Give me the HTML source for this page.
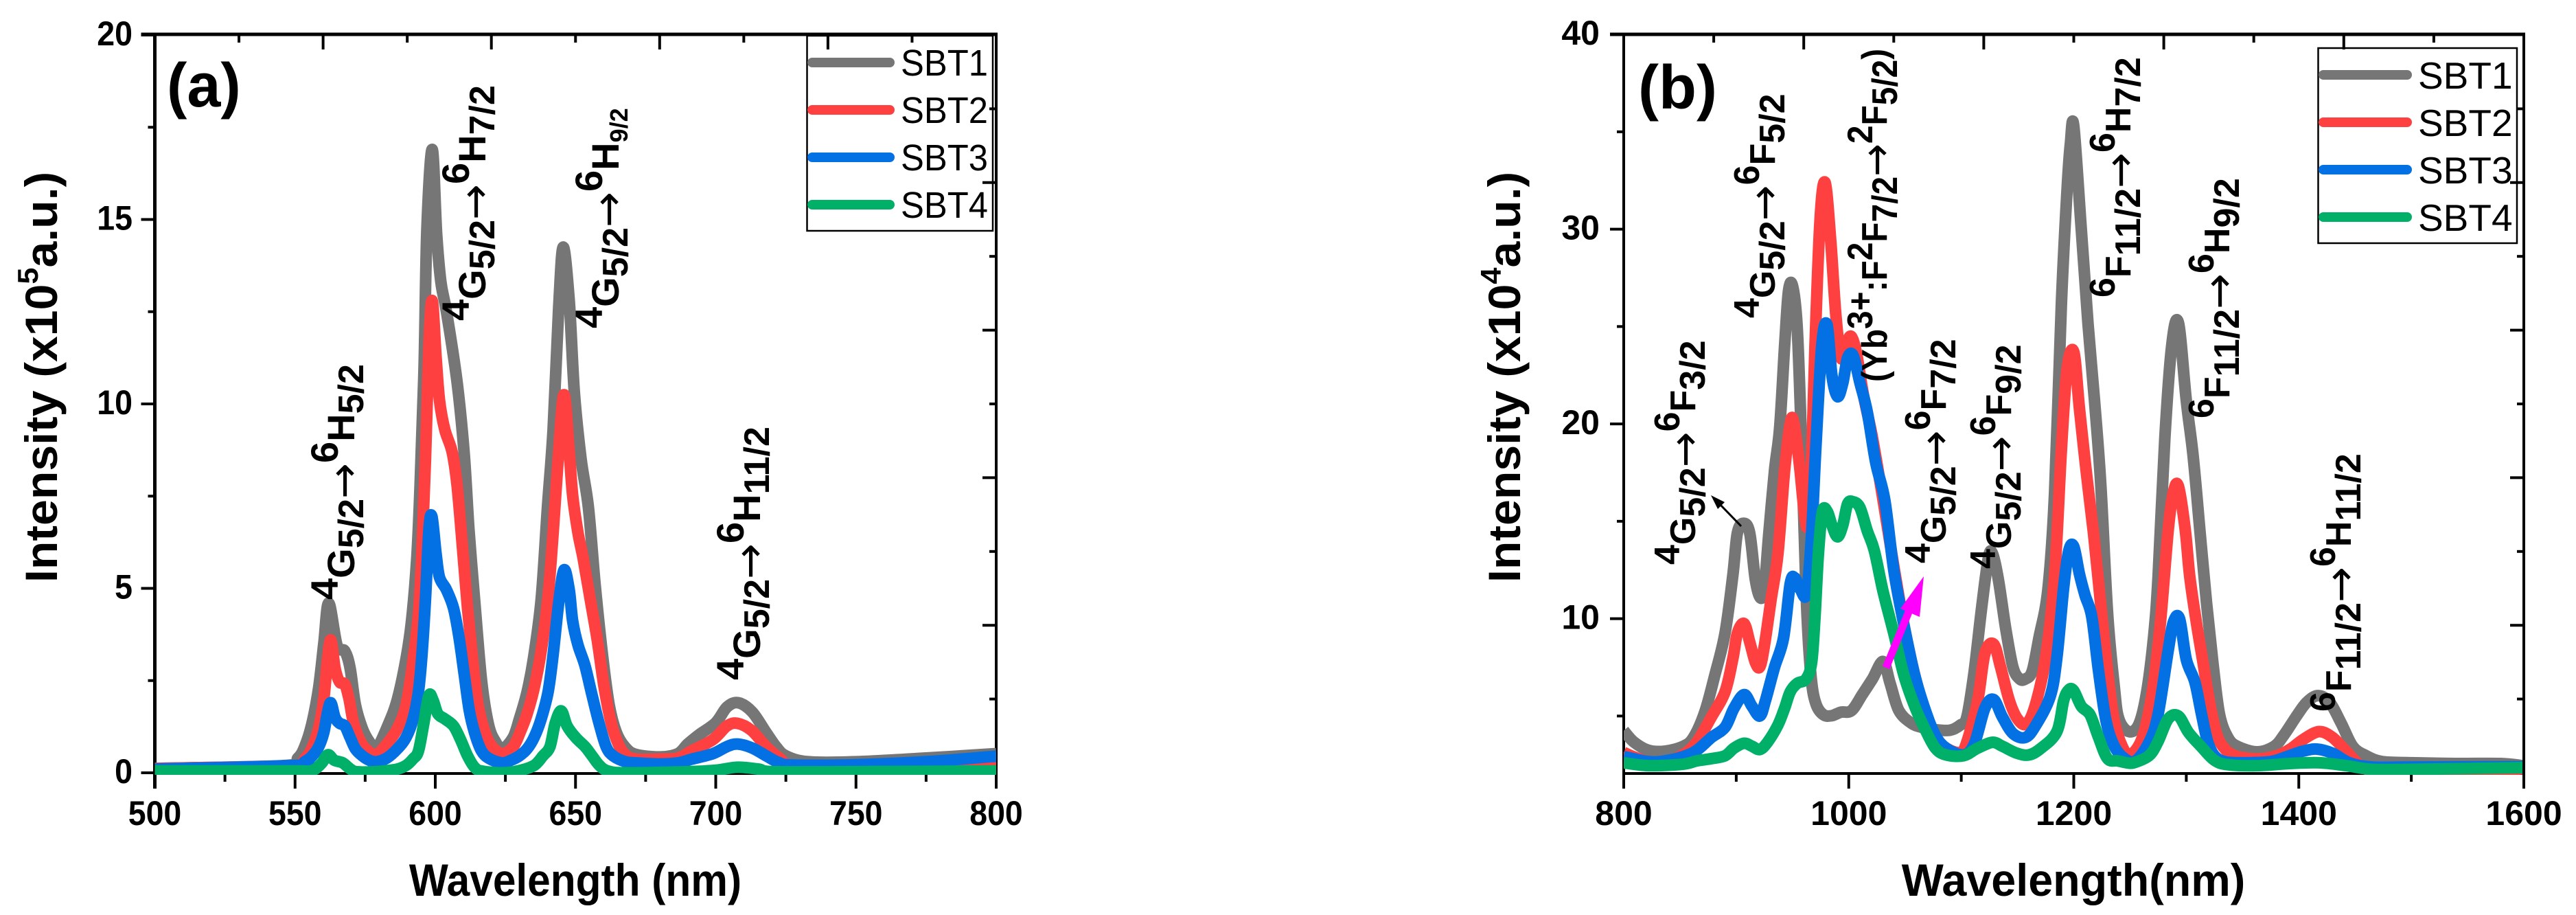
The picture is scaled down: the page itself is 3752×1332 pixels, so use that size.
<!DOCTYPE html>
<html lang="en">
<head>
<meta charset="utf-8">
<title>Emission spectra SBT1-SBT4</title>
<style>
html,body{margin:0;padding:0;background:#fff;}
svg{display:block;}
text{font-family:"Liberation Sans",Arial,sans-serif;fill:#000;}
.b{font-weight:bold;}
.an{font-weight:bold;font-size:56px;}
.bn{font-weight:bold;font-size:52px;}
.s{font-size:52px;}
.ar{font-family:"DejaVu Sans",sans-serif;font-weight:normal;font-size:62px;}
</style>
</head>
<body>
<svg id="chart" xmlns="http://www.w3.org/2000/svg" width="3752" height="1332" viewBox="0 0 3752 1332">
<rect x="0" y="0" width="3752" height="1332" fill="#fff"/>
<defs>
<clipPath id="clipA"><rect x="225.5" y="51" width="1225.5" height="1077"/></clipPath>
<clipPath id="clipB"><rect x="2365" y="51" width="1309" height="1077"/></clipPath>
</defs>
<g id="panelA"></g>
<g id="panelB"></g>

<!-- panel a labels -->
<text class="b" x="243" y="155" font-size="90" transform="translate(243,155) scale(.98,1) translate(-243,-155)">(a)</text>
<text class="b" font-size="66" transform="translate(838,1304) scale(.915,1)" text-anchor="middle">Wavelength (nm)</text>
<text class="b" font-size="66" transform="translate(83,848) rotate(-90) scale(1.03,1)">Intensity (x10<tspan font-size="42" dy="-28">5</tspan><tspan dy="28">a.u.)</tspan></text>

<g>
<rect x="1175.5" y="52" width="270.5" height="284" fill="none" stroke="#000" stroke-width="2.5"/>
<line x1="1183" x2="1296" y1="91" y2="91" stroke="#767676" stroke-width="14" stroke-linecap="round"/>
<line x1="1183" x2="1296" y1="160" y2="160" stroke="#ff4040" stroke-width="14" stroke-linecap="round"/>
<line x1="1183" x2="1296" y1="229" y2="229" stroke="#0371e3" stroke-width="14" stroke-linecap="round"/>
<line x1="1183" x2="1296" y1="298" y2="298" stroke="#00b068" stroke-width="14" stroke-linecap="round"/>
<text font-size="54" transform="translate(1312,110) scale(.94,1)">SBT1</text>
<text font-size="54" transform="translate(1312,179) scale(.94,1)">SBT2</text>
<text font-size="54" transform="translate(1312,248) scale(.94,1)">SBT3</text>
<text font-size="54" transform="translate(1312,317) scale(.94,1)">SBT4</text>
</g>

<!-- panel a annotations -->
<text class="an" transform="translate(516,873) rotate(-90)"><tspan dy="-24">4</tspan><tspan dy="24">G</tspan><tspan class="s" dy="13">5/2</tspan><tspan class="ar" dy="-7">→</tspan><tspan dy="-30">6</tspan><tspan dy="24">H</tspan><tspan class="s" dy="13">5/2</tspan></text>
<text class="an" transform="translate(707,467) rotate(-90)"><tspan dy="-24">4</tspan><tspan dy="24">G</tspan><tspan class="s" dy="13">5/2</tspan><tspan class="ar" dy="-7">→</tspan><tspan dy="-30">6</tspan><tspan dy="24">H</tspan><tspan class="s" dy="13">7/2</tspan></text>
<text class="an" transform="translate(901,478) rotate(-90)"><tspan dy="-24">4</tspan><tspan dy="24">G</tspan><tspan class="s" dy="13">5/2</tspan><tspan class="ar" dy="-7">→</tspan><tspan dy="-30">6</tspan><tspan dy="24">H</tspan><tspan font-size="36" dy="13">9/2</tspan></text>
<text class="an" transform="translate(1107,990) rotate(-90)"><tspan dy="-24">4</tspan><tspan dy="24">G</tspan><tspan class="s" dy="13">5/2</tspan><tspan class="ar" dy="-7">→</tspan><tspan dy="-30">6</tspan><tspan dy="24">H</tspan><tspan class="s" dy="13">11/2</tspan></text>

<!-- panel b labels -->
<text class="b" x="2386" y="158" font-size="90">(b)</text>
<text class="b" font-size="66" transform="translate(3020,1304) scale(.98,1)" text-anchor="middle">Wavelength(nm)</text>
<text class="b" font-size="66" transform="translate(2214,848) rotate(-90) scale(1.03,1)">Intensity (x10<tspan font-size="42" dy="-28">4</tspan><tspan dy="28">a.u.)</tspan></text>

<g>
<rect x="3376.5" y="70" width="289.5" height="284" fill="none" stroke="#000" stroke-width="2.5"/>
<line x1="3384" x2="3506" y1="109" y2="109" stroke="#767676" stroke-width="14" stroke-linecap="round"/>
<line x1="3384" x2="3506" y1="178" y2="178" stroke="#ff4040" stroke-width="14" stroke-linecap="round"/>
<line x1="3384" x2="3506" y1="247" y2="247" stroke="#0371e3" stroke-width="14" stroke-linecap="round"/>
<line x1="3384" x2="3506" y1="316" y2="316" stroke="#00b068" stroke-width="14" stroke-linecap="round"/>
<text font-size="55" x="3522" y="129">SBT1</text>
<text font-size="55" x="3522" y="198">SBT2</text>
<text font-size="55" x="3522" y="267">SBT3</text>
<text font-size="55" x="3522" y="336">SBT4</text>
</g>

<!-- panel b annotations -->
<text class="bn" transform="translate(2469,822) rotate(-90)"><tspan dy="-23">4</tspan><tspan dy="23">G</tspan><tspan class="s" dy="14">5/2</tspan><tspan class="ar" dy="-8">→</tspan><tspan dy="-29">6</tspan><tspan dy="23">F</tspan><tspan class="s" dy="14">3/2</tspan></text>
<text class="bn" transform="translate(2585,463) rotate(-90)"><tspan dy="-23">4</tspan><tspan dy="23">G</tspan><tspan class="s" dy="14">5/2</tspan><tspan class="ar" dy="-8">→</tspan><tspan dy="-29">6</tspan><tspan dy="23">F</tspan><tspan class="s" dy="14">5/2</tspan></text>
<text class="bn" transform="translate(2748,556) rotate(-90) scale(.92,1)">(Yb<tspan dy="-21">3+</tspan><tspan dy="21">:F</tspan><tspan dy="-21">2</tspan><tspan dy="21">F</tspan><tspan class="s" dy="15">7/2</tspan><tspan class="ar" dy="-9">→</tspan><tspan dy="-27">2</tspan><tspan dy="21">F</tspan><tspan class="s" dy="15">5/2</tspan><tspan dy="-15">)</tspan></text>
<text class="bn" transform="translate(2834,820) rotate(-90)"><tspan dy="-23">4</tspan><tspan dy="23">G</tspan><tspan class="s" dy="14">5/2</tspan><tspan class="ar" dy="-8">→</tspan><tspan dy="-29">6</tspan><tspan dy="23">F</tspan><tspan class="s" dy="14">7/2</tspan></text>
<text class="bn" transform="translate(2929,828) rotate(-90)"><tspan dy="-23">4</tspan><tspan dy="23">G</tspan><tspan class="s" dy="14">5/2</tspan><tspan class="ar" dy="-8">→</tspan><tspan dy="-29">6</tspan><tspan dy="23">F</tspan><tspan class="s" dy="14">9/2</tspan></text>
<text class="bn" transform="translate(3103,433) rotate(-90)"><tspan dy="-23">6</tspan><tspan dy="23">F</tspan><tspan class="s" dy="14">11/2</tspan><tspan class="ar" dy="-8">→</tspan><tspan dy="-29">6</tspan><tspan dy="23">H</tspan><tspan class="s" dy="14">7/2</tspan></text>
<text class="bn" transform="translate(3247,609) rotate(-90)"><tspan dy="-23">6</tspan><tspan dy="23">F</tspan><tspan class="s" dy="14">11/2</tspan><tspan class="ar" dy="-8">→</tspan><tspan dy="-29">6</tspan><tspan dy="23">H</tspan><tspan class="s" dy="14">9/2</tspan></text>
<text class="bn" transform="translate(3424,1036) rotate(-90)"><tspan dy="-23">6</tspan><tspan dy="23">F</tspan><tspan class="s" dy="14">11/2</tspan><tspan class="ar" dy="-8">→</tspan><tspan dy="-29">6</tspan><tspan dy="23">H</tspan><tspan class="s" dy="14">11/2</tspan></text>

<g>
<line x1="2536" y1="766" x2="2504" y2="733" stroke="#000" stroke-width="3"/>
<polygon points="2492,721 2512,731 2502,741" fill="#000"/>
</g>
<g>
<line x1="2747" y1="972" x2="2782" y2="886" stroke="#ff00ff" stroke-width="11"/>
<polygon points="2802,839 2796,898 2768,886" fill="#ff00ff"/>
</g>
</svg>

<script>
// ---------- Panel (a) data: wavelength (nm) / intensity (x10^5 a.u.) ----------
const aXTicks = [500, 550, 600, 650, 700, 750, 800];
const aYTicks = [0, 5, 10, 15, 20];

const aSbt1X = [500,546.5,551,553.4,555.9,558.4,560.25,562,565,567.75,569.6,571.5,574,576.5,579,583.4,586.5,589.6,591.5,593.4,594.6,596,597,598.9,600.5,602,604,607.75,610.25,612,614,616.5,619,621.5,624,627.75,630,632.75,635,637.75,640,642,644,645.6,647.75,649.6,652,654.6,657,659.6,662,664.6,667.75,671.5,680,686.5,690,694,700,704,708,713,718,721.5,725,733,750,775,800];
const aSbt1Y = [0.12,0.2,0.4,0.7,1.3,2.3,3.5,4.6,3.45,3.3,2.85,1.85,1.2,0.84,0.65,1.34,2.0,3.1,4.1,5.8,7.8,11,14.7,16.9,14.6,13.3,12.5,10.6,8.7,6.6,4.7,2.5,1.3,0.84,0.65,0.96,1.46,2.2,3.1,4.7,7.2,9.3,12.6,14.25,12.8,10.3,8.5,7.2,5.1,3.2,1.84,1.09,0.69,0.5,0.43,0.52,0.78,1.03,1.36,1.78,1.9,1.65,1.09,0.71,0.46,0.3,0.3,0.4,0.52];

const aSbt2X = [500,550.25,553.4,555.9,558.4,560.25,561.5,562.75,564.25,565.9,567.75,569.25,570.9,573.4,575.9,579,582.75,586.5,589.6,592,594,595.25,596.5,597.75,598.9,600.25,601.5,603.4,606,607.75,609.6,611.5,613.4,615.25,617.75,620.25,624,627.75,630.25,632.75,635.25,637.75,640.25,642.1,644,645.9,647.75,649,650.9,652.75,655.25,657.75,660.25,662.75,665.25,667.75,671.5,680,686.5,691.5,699,704,707.75,712.75,718,722.75,727.75,750,775,790,800];
const aSbt2Y = [0.12,0.2,0.37,0.65,1.2,2,3,3.6,2.84,2.46,2.4,2,1.34,0.84,0.6,0.5,0.78,1.2,1.84,3,4.3,6,8.5,11.6,12.8,11.3,10.1,9.3,8.7,7.8,6.2,4.46,3,1.84,1.09,0.71,0.52,0.7,1.1,1.6,2.3,3.3,4.8,6.6,8.7,10.25,8.7,7.5,6.5,5.8,4.7,3.6,2.3,1.34,0.78,0.49,0.37,0.37,0.4,0.6,0.9,1.27,1.34,1.15,0.71,0.4,0.2,0.15,0.12,0.15,0.28];

const aSbt3X = [500,550.25,553.4,555.9,558.4,560.25,561.5,562.75,564.25,565.9,567.75,569.6,571.5,574,576.5,579,582.75,586.5,589.6,592.1,594,595.25,596.5,597.75,598.8,600.25,601.5,604,606.5,608.4,610.25,612.1,614,616.5,619.6,624,627,630,632.75,635.25,637.75,640.25,642,644,645.9,647.75,649,650.9,653.4,655.9,658.4,660.9,663.4,667.75,671.5,680,686.5,691.5,699,704,707.75,712.75,718,722.75,727.75,750,775,800];
const aSbt3Y = [0.1,0.2,0.3,0.44,0.7,1.09,1.6,1.9,1.5,1.34,1.27,0.96,0.65,0.46,0.34,0.3,0.4,0.65,0.96,1.46,2.2,3.2,4.7,6.6,6.95,5.96,5.3,4.96,4.46,3.7,2.7,1.7,1.09,0.59,0.37,0.27,0.34,0.46,0.65,0.96,1.46,2.2,3.2,4.6,5.5,4.96,4.1,3.46,2.9,2.1,1.34,0.71,0.46,0.3,0.27,0.24,0.27,0.37,0.52,0.71,0.78,0.68,0.46,0.27,0.21,0.22,0.3,0.45];

const aSbt4X = [500,550,554,557,559.6,561.75,564,567,569.6,572,579,582.75,586.5,589.6,592,594,595.9,597.75,599.25,600.9,603.4,606.5,609,611.5,614,616.5,624,630,635.25,638.4,640.9,642.75,644.9,647,650,653.4,655.9,658.4,661.5,668,690,700,707.75,715.25,721,750,800];
const aSbt4Y = [0.05,0.05,0.03,0.09,0.27,0.49,0.34,0.27,0.11,0.03,0.03,0.06,0.1,0.2,0.37,0.59,1.34,2.1,1.96,1.6,1.46,1.27,0.9,0.46,0.15,0.05,0.0,0.06,0.2,0.46,0.71,1.34,1.68,1.27,0.96,0.71,0.46,0.21,0.05,0.0,0.03,0.07,0.15,0.1,0.03,0.03,0.05];

// ---------- Panel (b) data: wavelength (nm) / intensity (x10^4 a.u.) ----------
const bXTicks = [800, 1000, 1200, 1400, 1600];
const bYTicks = [10, 20, 30, 40];

const bSbt1X = [800,809,822,837,853,862,872,881,890,897,901,906.5,912,917,921.5,925,929,934,938.6,943,946.4,950,954,957,960.4,963,966.7,971,977.6,985,993,1002.5,1012,1021,1030.5,1036.8,1044.5,1055.5,1065,1077,1090,1099,1105,1111.5,1118,1124,1127.7,1133,1139.6,1146,1152,1157,1163,1169,1177,1183,1189,1194,1197,1200,1206.7,1212.6,1218.4,1224,1230,1236,1240,1249,1258,1265,1271,1275,1281,1287,1293,1300,1306,1312,1318,1323.7,1329.5,1337,1345.6,1363,1378,1386.5,1398,1407,1417,1427.5,1437.7,1448,1459.6,1474,1500,1538.6,1579.5,1600];
const bSbt1Y = [4.25,3.67,3.24,3.2,3.45,3.9,5.2,7.1,9.25,12.25,14.4,14.9,14.4,12,11.07,11.6,14.4,17.6,19.8,24,26.8,27.1,25.1,20.8,14.4,10.1,6.9,5.6,5.06,5.02,5.2,5.28,6.1,6.9,7.8,6.67,5.28,4.64,4.42,4.3,4.27,4.53,4.96,7.3,10.5,13.1,13.35,12,9.46,7.5,6.9,6.9,7.3,9,11.5,16.5,26.2,32,34.4,35.3,29.96,25.2,21.2,16.9,10.3,6.5,4.86,4.2,4.6,6.3,9.1,12.2,19.3,24,25.2,21.2,18.4,14.6,10.8,7.7,5.1,3.9,3.44,3.16,3.44,4.0,5,5.7,6.05,5.7,4.63,3.44,2.97,2.66,2.6,2.56,2.56,2.44];

const bSbt2X = [800,809,822,837,853,865,878,890,897,901,907,912,917,921,925,931,937,943,948,951,956,960.4,963.5,966.7,970,974.5,979,984,988.5,993,997,1002,1007,1013,1021,1030.5,1040,1049,1058.6,1068,1077,1086.6,1099,1105,1114.6,1121,1128.7,1135,1142.7,1150,1158,1166,1175,1183,1189,1194,1200,1205,1211,1217.5,1224,1230,1236,1243,1250,1261,1270,1277,1284,1288.6,1293,1299,1303,1309,1315,1321,1326.6,1332.5,1342.7,1363,1380.7,1392.4,1404,1418,1430,1442,1454,1468,1500,1560,1600];
const bSbt2Y = [3.13,2.9,2.66,2.66,3.03,3.67,4.96,6.24,7.96,9.25,9.75,8.8,7.75,7.53,8.6,11,13.3,17.6,20,20.1,18,15.5,14.8,17.6,24,30.5,32.4,29.4,25.6,23.4,24,24.5,23.6,21.5,19.3,16.1,12.7,9.7,7.1,5.2,3.9,3.35,3.13,3.67,5.8,8.2,8.7,7.5,5.8,4.85,4.6,5.6,8,12.25,18.7,22.8,23.7,20.8,17.6,14.4,10.7,7.3,4.74,3.45,3,3.9,6.3,9.8,14.6,16.5,16.8,14.6,12.2,9.8,7.7,5.6,4.15,3.44,2.97,2.8,2.97,3.3,3.8,4.2,3.9,3.2,2.5,2.14,2.14,2.14,2.3];

const bSbt3X = [800,822,837,853,865,878,890,898,907,914,921,926,934,942,948,952,957,962.6,967,970.7,976,980.7,985,990,994.7,999,1004,1010,1016.5,1024,1032,1040,1049,1058.6,1068,1077,1086.6,1102,1111.5,1121,1128.7,1136.5,1146,1157,1166,1179,1185,1191,1195.6,1200,1205,1210,1216,1222,1228.7,1236,1245.5,1255,1267,1275,1284,1288.6,1294,1300,1307.6,1313.5,1319,1325,1334,1351,1375,1392,1404,1416,1430,1445,1465,1500,1600];
const bSbt3Y = [2.92,2.66,2.7,2.92,3.24,3.9,4.42,5.4,6.1,5.5,5,5.8,7.5,9,11.8,12.1,11.5,11.3,14.4,18.7,24,25.1,22.5,21.4,22.1,23.4,23.5,22.1,20.6,18,16.1,12.5,9.7,7.1,5.3,4,3.35,3,3.56,5.4,5.85,4.96,4.1,3.9,4.5,6,8,11.6,13.5,13.7,12.3,11.2,10.1,7.3,4.74,3.45,2.8,2.7,3.66,5.1,8.4,9.83,10,7.9,6.75,5.1,3.68,2.97,2.66,2.6,2.66,2.97,3.2,3.3,3.09,2.6,2.38,2.38,2.4];

const bSbt4X = [800,822,853,865,878,890,898,907,914,921,928,937,943,948,954,962,967,970,973,976.6,981,985,990,994.7,999,1004,1010,1016.5,1022.7,1030.5,1040,1049,1058.6,1068,1077,1086.6,1102,1114.6,1127.7,1136.5,1149,1160,1171,1185,1191,1195.6,1200,1206.7,1214.5,1222,1230,1239,1247,1253.5,1267,1275,1284,1293,1302,1313,1325,1337,1363,1392,1418,1442,1465,1500,1600];
const bSbt4Y = [2.6,2.45,2.53,2.7,2.81,2.96,3.35,3.6,3.45,3.28,3.67,4.53,5.4,6.24,6.67,6.9,7.75,10.1,13.3,15.5,15.5,14.8,14.2,14.8,15.9,16,15.7,14.5,13.5,11.4,9.25,7.1,5.5,4.3,3.35,3,2.96,3.35,3.65,3.45,3.1,3,3.35,4.2,5.8,6.35,6.3,5.5,5.06,3.9,2.81,2.7,2.6,2.6,2.97,3.7,4.86,5,4.15,3.44,2.73,2.5,2.45,2.56,2.6,2.45,2.26,2.26,2.35];

const seriesNames = ['sbt1', 'sbt2', 'sbt3', 'sbt4'];
const seriesColors = ['#767676', '#ff4040', '#0371e3', '#00b068'];

const NS = 'http://www.w3.org/2000/svg';

function mk(parent, tag, attrs, txt) {
  const el = document.createElementNS(NS, tag);
  for (const k in attrs) el.setAttribute(k, attrs[k]);
  if (txt !== undefined) el.textContent = txt;
  parent.appendChild(el);
  return el;
}

function curve(xs, ys, sx, sy) {
  const p = xs.map((x, i) => [sx(x), sy(ys[i])]);
  let d = 'M' + p[0][0].toFixed(1) + ' ' + p[0][1].toFixed(1);
  for (let i = 0; i < p.length - 1; i++) {
    const a = p[Math.max(0, i - 1)], b = p[i], c = p[i + 1], e = p[Math.min(p.length - 1, i + 2)];
    const c1 = [b[0] + (c[0] - a[0]) / 6, b[1] + (c[1] - a[1]) / 6];
    const c2 = [c[0] - (e[0] - b[0]) / 6, c[1] - (e[1] - b[1]) / 6];
    d += 'C' + c1[0].toFixed(1) + ' ' + c1[1].toFixed(1) + ' ' + c2[0].toFixed(1) + ' ' + c2[1].toFixed(1) + ' ' + c[0].toFixed(1) + ' ' + c[1].toFixed(1);
  }
  return d;
}

function drawPanel(root, cfg) {
  const sx = cfg.sx, sy = cfg.sy;
  const L = cfg.left, R = cfg.right, T = 50, B = 1126;

  // frame
  const frame = mk(root, 'g', {});
  
  
  mk(frame, 'line', {x1: L, x2: L, y1: T - 2.5, y2: 1148, stroke: '#000', 'stroke-width': cfg.sw});
  mk(frame, 'line', {x1: R, x2: R, y1: T - 2.5, y2: 1148, stroke: '#000', 'stroke-width': 4});
  mk(frame, 'line', {x1: L - 20, x2: R + 2, y1: T, y2: T, stroke: '#000', 'stroke-width': 5});
  mk(frame, 'line', {x1: L - 2, x2: R + 2, y1: B, y2: B, stroke: '#000', 'stroke-width': 4});

  // bottom & left ticks
  const w = R - L;
  for (let i = 0; i <= cfg.xDiv; i++) {
    const x = L + w * i / cfg.xDiv;
    const major = i % 2 === 0;
    mk(frame, 'line', {x1: x, x2: x, y1: B, y2: major ? 1148 : 1138, stroke: '#000', 'stroke-width': 4});
  }
  for (let i = 0; i <= cfg.yDiv; i++) {
    const v = cfg.yMajorStep / 2 * i;
    if (v < cfg.yMin) continue;
    const y = sy(v);
    const major = i % 2 === 0;
    mk(frame, 'line', {x1: L, x2: L - (major ? 20 : 10), y1: y, y2: y, stroke: '#000', 'stroke-width': 4});
  }
  // top & right ticks (ten divisions, long every second)
  for (let i = 1; i < 10; i++) {
    const x = L + w * i / 10;
    mk(frame, 'line', {x1: x, x2: x, y1: T, y2: i % 2 === 0 ? 72 : 62, stroke: '#000', 'stroke-width': 4});
    const y = 51 + 107.4 * i;
    mk(frame, 'line', {x1: R, x2: R - (i % 2 === 0 ? 20 : 10), y1: y, y2: y, stroke: '#000', 'stroke-width': 4});
  }

  // tick labels
  cfg.xTicks.forEach(v => {
    const t = mk(root, 'text', {'font-weight': 'bold', 'font-size': 50, 'text-anchor': 'middle',
      transform: 'translate(' + sx(v) + ',1201) scale(' + cfg.tickScale + ',1)'}, String(v));
    
    
  });
  cfg.yTicks.forEach(v => {
    const t = mk(root, 'text', {'font-weight': 'bold', 'font-size': 50, 'text-anchor': 'end',
      transform: 'translate(' + cfg.yLabelX + ',' + (sy(v) + 15) + ') scale(' + cfg.tickScale + ',1)'}, String(v));
    
    
  });

  // series
  cfg.series.forEach((s, i) => {
    const p = mk(root, 'path', {d: curve(s[0], s[1], sx, sy), fill: 'none', stroke: seriesColors[i],
      'stroke-width': 17, 'stroke-linejoin': 'round', 'stroke-linecap': 'butt', 'clip-path': 'url(#' + cfg.clip + ')'});
    
    
  });
}

drawPanel(document.getElementById('panelA'), {
  left: 225.5, right: 1451, sw: 5, clip: 'clipA',
  sx: v => 225.5 + (v - 500) * (1451 - 225.5) / 300,
  sy: v => 1125 - v * 53.7,
  xDiv: 12, yDiv: 8, yMajorStep: 5, yMin: 0,
  xTicks: aXTicks, yTicks: aYTicks, tickScale: 0.93, yLabelX: 193,
  series: [[aSbt1X, aSbt1Y], [aSbt2X, aSbt2Y], [aSbt3X, aSbt3Y], [aSbt4X, aSbt4Y]]
});

drawPanel(document.getElementById('panelB'), {
  left: 2365, right: 3676, sw: 4, clip: 'clipB',
  sx: v => 2365 + (v - 800) * (3676 - 2365) / 800,
  sy: v => 900.6 - (v - 10) * 28.35,
  xDiv: 8, yDiv: 16, yMajorStep: 10, yMin: 2.1,
  xTicks: bXTicks, yTicks: bYTicks, tickScale: 1, yLabelX: 2330,
  series: [[bSbt1X, bSbt1Y], [bSbt2X, bSbt2Y], [bSbt3X, bSbt3Y], [bSbt4X, bSbt4Y]]
});
</script>
</body>
</html>
